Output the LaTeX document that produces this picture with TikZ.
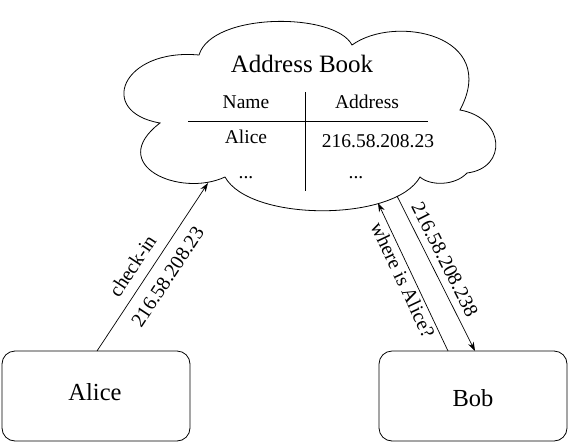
\documentclass[tikz,border=0pt]{standalone}
\usepackage{fontspec}
\setmainfont{Liberation Serif}
\usetikzlibrary{arrows.meta}
\tikzset{
  box/.style={draw, line width=0.8pt, rounded corners=13pt, minimum width=188pt, minimum height=90pt, inner sep=0pt},
  bigtxt/.style={font=\fontsize{24.5}{28}\selectfont, inner sep=0pt, anchor=base},
  titletxt/.style={font=\fontsize{25}{28}\selectfont, inner sep=0pt, anchor=base},
  tabtxt/.style={font=\fontsize{19.5}{22}\selectfont, inner sep=0pt, anchor=base},
  lbl/.style={font=\fontsize{20}{22}\selectfont, sloped},
  conn/.style={line width=0.7pt, -{Stealth[length=9pt,width=6pt]}},
  cloudline/.style={line width=0.8pt}
}
\begin{document}
\begin{tikzpicture}[x=1pt,y=-1pt]
\useasboundingbox (0,0) rectangle (572,444);
% cloud
\draw[cloudline] (199,55) .. controls (212,12) and (335,12) .. (352,45)
  .. controls (395,14) and (500,35) .. (460,110)
  .. controls (505,118) and (508,168) .. (467,173)
  .. controls (455,186) and (430,186) .. (420,177)
  .. controls (395,222) and (250,222) .. (225,177)
  .. controls (180,198) and (105,165) .. (160,123)
  .. controls (96,112) and (122,48) .. (199,55) -- cycle;
\node[titletxt] (title) at (302,72) {Address Book};
\coordinate (vt) at (305,92);
\coordinate (vb) at (305,191);
\coordinate (hl) at (188,121);
\coordinate (hr) at (428,121);
\draw[line width=0.7pt] (vt) -- (vb);
\draw[line width=0.7pt] (hl) -- (hr);
\node[tabtxt] (hname) at (246,108) {Name};
\node[tabtxt] (haddr) at (367,108) {Address};
\node[tabtxt] (ralice) at (246,143) {Alice};
\node[tabtxt] (raddr) at (378,147) {216.58.208.23};
\node[tabtxt] (dots1) at (246,178) {...};
\node[tabtxt] (dots2) at (356,178) {...};
% boxes
\node[box] (alice) at (96,396) {};
\node[bigtxt] (alicet) at (95,400) {Alice};
\node[box] (bob) at (473,396) {};
\node[bigtxt] (bobt) at (473,406) {Bob};
% connector endpoints
\coordinate (cin) at (208,183);
\coordinate (aout) at (97,351);
\coordinate (cq) at (378,203);
\coordinate (bq) at (448,351);
\coordinate (cr) at (397,196);
\coordinate (br) at (475,351);
\draw[conn] (aout) -- node[lbl, above, pos=0.45, inner sep=10pt] {check-in} node[lbl, below, pos=0.50, inner sep=11pt] {216.58.208.23} (cin);
\draw[conn] (bq) -- node[lbl, below, pos=0.51, inner sep=3pt] {where is Alice?} (cq);
\draw[conn] (cr) -- node[lbl, above, pos=0.45, inner sep=7pt] {216.58.208.238} (br);
\end{tikzpicture}
\end{document}
